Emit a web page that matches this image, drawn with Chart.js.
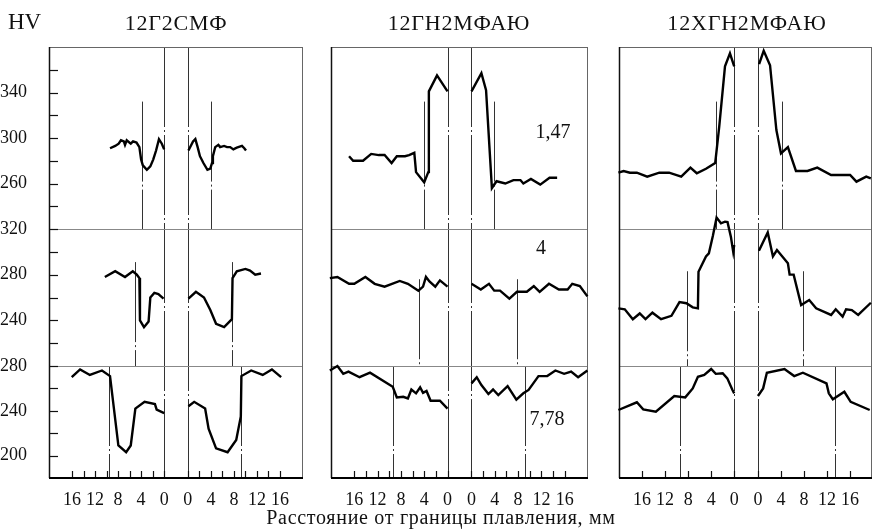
<!DOCTYPE html>
<html>
<head>
<meta charset="utf-8">
<script src="https://cdn.jsdelivr.net/npm/chart.js@4.4.1/dist/chart.umd.min.js"></script>
<style>
  body { margin: 0; background: #fff; }
  #wrap { position: relative; width: 872px; height: 531px; overflow: hidden;
          font-family: "Liberation Serif", "Times New Roman", serif; color: #111; }
  #wrap canvas { position: absolute; left: 0; top: 0; }
  .t { position: absolute; white-space: nowrap; line-height: 1; transform: translate(-50%, -50%); }
  .ttl { font-size: 22px; letter-spacing: 0.8px; }
</style>
</head>
<body>
<div id="wrap">
  <canvas id="c0" width="872" height="531"></canvas>
  <canvas id="c1" width="872" height="531"></canvas>
  <canvas id="c2" width="872" height="531"></canvas>
  <div class="t" style="left:8px;top:21px;font-size:23px;transform:translateY(-50%)">HV</div>
  <div class="t ttl" id="ti0" style="left:176px;top:23px"></div>
  <div class="t ttl" id="ti1" style="left:459px;top:23px"></div>
  <div class="t ttl" id="ti2" style="left:747px;top:23px"></div>
  <div class="t" id="st0" style="left:553px;top:131px;font-size:20px"></div>
  <div class="t" id="st1" style="left:541px;top:247px;font-size:20px"></div>
  <div class="t" id="st2" style="left:547px;top:418px;font-size:20px"></div>
  <div class="t" style="left:441px;top:517px;font-size:20px;letter-spacing:0.7px">Расстояние от границы плавления, мм</div>
</div>
<script>
// half of the gap between the two zero lines, mm
const GAP = 2.06;

const steels = ['12Г2СМФ', '12ГН2МФАЮ', '12ХГН2МФАЮ'];
const strains = ['1,47', '4', '7,78'];

// HV range, labels and tick marks of each row (top to bottom)
const rowRanges = [[220, 380], [200, 320], [180, 280]];
const rowLabels = [[260, 300, 340], [240, 280, 320], [200, 240, 280]];
const rowTicks = [[240, 260, 280, 300, 320, 340, 360], [220, 240, 260, 280, 300, 320], [200, 220, 240, 260, 280]];

// distance tick labels and tick marks, mm
const xLabels = [0, 4, 8, 12, 16];
const xTicks2 = [0, 2, 4, 6, 8, 10, 12, 14, 16];
const xTicks4 = [0, 4, 8, 12, 16];

// curves: [distance from fusion line, mm ; HV]
// 12Г2СМФ
const a1L = [[9.4,291],[8.5,293],[7.9,295],[7.5,298],[7.0,297],[6.8,294],[6.5,298],[5.8,295],[5.4,297],[4.8,296],[4.3,292],[4.0,281],[3.7,276],[3.0,272],[2.4,275],[1.9,281],[1.4,289],[0.9,299],[0.4,295],[0,290]];
const a1R = [[0.1,289],[0.9,297],[1.3,299],[1.7,292],[2.1,284],[2.7,278],[3.4,272],[3.9,273],[4.2,278],[4.35,284],[4.75,292],[5.3,294],[5.6,292],[6.3,293],[6.8,292],[7.35,292],[7.9,290],[8.5,291.5],[9.0,292.4],[9.4,293],[9.8,291],[10.1,289]];
const a2L = [[10.3,278],[8.5,283],[6.8,278],[5.45,283],[4.75,280],[4.3,277],[4.2,240],[3.5,234],[2.7,239],[2.4,260],[1.7,264],[1.0,263],[0.1,259]];
const a2R = [[0.1,259],[1.4,265],[2.8,260],[3.9,249],[4.9,237],[6.3,234],[7.65,241],[7.76,277],[8.5,283],[10,285],[10.8,283.5],[11.7,280],[12.7,281]];
const a3L = [[16.05,270],[14.6,277],[12.9,272],[10.8,276],[9.4,271],[7.95,209],[6.6,203],[5.8,209],[5.0,242],[3.4,248],[1.6,246],[1.3,241],[0,238]];
const a3R = [[0.1,244],[1.1,248],[3.0,242],[3.6,224],[4.9,206.5],[6.9,203],[8.4,214],[9.2,235],[9.3,271],[11,276],[13,272],[14.6,277],[16.2,270]];
// 12ГН2МФАЮ
const b1L = [[16.9,284],[16.2,280],[14.5,280],[13.1,286],[11.8,285],[10.8,285],[9.6,278],[8.7,284],[7.3,284],[6.6,285],[5.7,287],[5.4,270],[4.0,261],[3.3,270],[3.2,341],[1.8,355],[0,341]];
const b1R = [[0,341],[1.7,357],[2.5,342],[3.5,256],[4.3,262],[5.8,260],[7.2,263],[8.4,263],[8.9,260],[10.2,264],[11.8,259],[13.4,265],[14.7,265]];
const b2L = [[20.2,277],[18.9,278],[16.9,272],[16,272],[14.1,278],[12.5,272],[10.8,269.5],[8.2,274.5],[6.8,272],[5.0,266],[4.2,269.5],[3.7,278],[3.1,274],[2.1,269.5],[1.3,275],[0,269.5]];
const b2R = [[0,272],[1.6,267],[3.0,272],[3.9,266],[4.9,266],[6.5,259],[7.8,265],[9.5,265],[10.7,270],[11.7,265],[13.3,272],[15,267],[16.5,267],[17.3,272],[18.6,270],[19.9,261]];
const b3L = [[20.2,276],[18.9,280],[17.9,273],[17,275],[15.1,270],[13.3,274],[9.4,261.5],[8.7,252],[7.6,252.5],[6.8,251],[6.2,259],[5.4,255.6],[4.7,261],[4.2,256],[3.6,257.7],[2.9,249],[1.3,249],[0,242]];
const b3R = [[0,264.5],[0.9,270],[1.7,263],[2.9,255],[3.7,259],[4.6,254],[6.2,262],[7.7,250],[8.9,255.6],[9.8,258.6],[11.5,271],[13,271],[14.4,276],[15.9,273],[17.1,275],[18.3,270],[19.9,276]];
// 12ХГН2МФАЮ
const c1L = [[20.1,269.5],[19.2,271],[18.1,269.5],[16.9,269.5],[15.1,266],[13,269.5],[11.3,269.5],[9.2,266],[7.6,274],[6.5,269],[4.9,273],[3.3,278],[2.6,310],[1.6,363],[0.74,374.5],[0,363]];
const c1R = [[0.2,365],[1,376.7],[2.1,364],[3.2,307],[4,286.5],[5.2,292],[6.6,271],[8.6,271],[10.3,274],[12.7,267.5],[14.7,267.5],[16,267.5],[17.1,261.6],[18.8,266],[19.6,264.6]];
const c2L = [[20.1,250.5],[19,249.7],[17.6,241],[16.4,246],[15.4,241],[14.2,246.7],[12.7,241],[10.9,244],[9.5,256],[8.3,255],[7.2,251.4],[6.3,250.5],[6.2,282.6],[4.9,296],[4.4,298.7],[3.7,314],[3.06,330],[2.3,325],[1.6,326.4],[1.16,326],[0.57,313],[0.17,300],[0,306]];
const c2R = [[0.17,301],[1.7,317],[2.6,296],[3.3,301.6],[5.2,290],[5.5,280],[6.2,280],[7.5,253.4],[8.9,257.8],[10.1,250.5],[12.7,244.7],[13.5,249.7],[14.7,243.2],[15.3,249.7],[16.3,249],[17.4,244.7],[19.6,255.4]];
const c3L = [[20.1,240.7],[16.9,247.6],[15.8,241.3],[13.6,239.2],[10.4,253.2],[8.5,252],[7.2,260],[6.3,270.4],[5.2,272],[4.0,277.3],[3.2,273],[2.0,273.5],[1.2,269],[0.3,258.6],[0,255.6]];
const c3R = [[0,253.2],[0.9,260],[1.55,274],[4.6,277.3],[6.3,271],[7.8,274],[11.9,264.5],[12.3,255.6],[13,250.3],[15,257],[16.1,248],[19.4,240.7]];

// heat affected zone boundaries per row: [left mm, right mm, HV where the line starts]
const haz0 = [[3.8, 4.0, 332], [5.0, 7.75, 291], [9.5, 9.3, 280]];
const haz1 = [[4.0, 3.9, 332], [4.9, 7.8, 276], [9.4, 9.2, 280]];
const haz2 = [[3.1, 4.15, 332], [8.2, 7.8, 283], [9.4, 13.4, 280]];

const columns = [
  { left: 49, right: 303, maxMm: 20, curves: [[a1L, a1R], [a2L, a2R], [a3L, a3R]], haz: haz0, xTicks: xTicks2 },
  { left: 331, right: 588, maxMm: 20, curves: [[b1L, b1R], [b2L, b2R], [b3L, b3R]], haz: haz1, xTicks: xTicks2 },
  { left: 619, right: 872, maxMm: 19.8, curves: [[c1L, c1R], [c2L, c2R], [c3L, c3R]], haz: haz2, xTicks: xTicks4 },
];
const TOP = 47, BOTTOM = 478;
const rowPx = [182, 137, 112];
const FONT = '"Liberation Serif", "Times New Roman", serif';

steels.forEach((s, i) => { document.getElementById('ti' + i).textContent = s; });
strains.forEach((s, i) => { document.getElementById('st' + i).textContent = s; });

const side = (d, sgn) => sgn * (d + GAP);

function framePlugin(col, c) {
  return {
    id: 'frame' + c,
    beforeDatasetsDraw(chart) {
      const { ctx, chartArea: a, scales } = chart;
      const x = scales.x;
      const seg = (x1, y1, x2, y2) => { ctx.beginPath(); ctx.moveTo(x1, y1); ctx.lineTo(x2, y2); ctx.stroke(); };
      const px = v => Math.round(x.getPixelForValue(v)) + 0.5;
      ctx.save();
      // zero lines and HAZ boundaries, dash-dot
      ctx.strokeStyle = '#333';
      ctx.lineWidth = 1;
      ctx.setLineDash([80, 3, 2, 3]);
      [-GAP, GAP].forEach(v => seg(px(v), a.top, px(v), a.bottom));
      col.haz.forEach((h, r) => {
        const y = scales['y' + r];
        const top = y.getPixelForValue(h[2]);
        seg(px(side(h[0], -1)), top, px(side(h[0], -1)), y.bottom);
        seg(px(side(h[1], 1)), top, px(side(h[1], 1)), y.bottom);
      });
      ctx.setLineDash([]);
      // row separators
      ctx.strokeStyle = '#888';
      [0, 1].forEach(r => {
        const yy = Math.round(scales['y' + r].bottom) + 0.5;
        seg(a.left, yy, a.right, yy);
      });
      // top and right frame
      ctx.strokeStyle = '#666';
      seg(a.left, a.top + 0.5, a.right, a.top + 0.5);
      seg(a.right - 0.5, a.top, a.right - 0.5, a.bottom);
      // left border
      ctx.strokeStyle = '#111';
      ctx.lineWidth = 1.5;
      seg(a.left + 0.5, a.top, a.left + 0.5, a.bottom);
      // inward tick marks
      ctx.lineWidth = 1.2;
      col.xTicks.forEach(d => {
        [-1, 1].forEach(sgn => seg(px(side(d, sgn)), a.bottom, px(side(d, sgn)), a.bottom - 7));
      });
      if (c === 0) {
        rowTicks.forEach((list, r) => {
          const y = scales['y' + r];
          list.forEach(v => {
            const yy = Math.round(y.getPixelForValue(v)) + 0.5;
            seg(a.left, yy, a.left + 9, yy);
          });
        });
      }
      // bottom axis
      ctx.strokeStyle = '#000';
      ctx.lineWidth = 2;
      seg(a.left, a.bottom, a.right, a.bottom);
      ctx.restore();
    }
  };
}

columns.forEach((col, c) => {
  const yW = c === 0 ? 49 : 0;
  const scales = {
    x: {
      type: 'linear',
      position: 'bottom',
      min: -(20 + GAP),
      max: col.maxMm + GAP,
      afterFit: s => { s.height = 40; },
      afterBuildTicks: s => {
        const vals = xLabels.map(d => side(d, -1)).reverse().concat(xLabels.map(d => side(d, 1)));
        s.ticks = vals.map(v => ({ value: v }));
      },
      grid: { display: false },
      border: { display: false },
      ticks: {
        autoSkip: false, maxRotation: 0, padding: 3, color: '#111',
        font: { family: FONT, size: 18 },
        callback: v => Math.round(Math.abs(v) - GAP)
      }
    }
  };
  rowRanges.forEach((rg, r) => {
    scales['y' + r] = {
      type: 'linear',
      position: 'left',
      stack: 'hv',
      stackWeight: rowPx[r],
      weight: 3 - r,
      min: rg[0],
      max: rg[1],
      afterFit: s => { s.width = yW; },
      afterBuildTicks: s => { s.ticks = rowLabels[r].map(v => ({ value: v })); },
      grid: { display: false },
      border: { display: false },
      ticks: {
        display: c === 0, autoSkip: false, padding: 14, color: '#111',
        font: { family: FONT, size: 18 }
      }
    };
  });

  const datasets = [];
  col.curves.forEach((pair, r) => {
    pair.forEach((pts, k) => {
      const sgn = k === 0 ? -1 : 1;
      datasets.push({
        data: pts.map(([d, v]) => ({ x: side(d, sgn), y: v })),
        yAxisID: 'y' + r,
        borderColor: '#000',
        borderWidth: 2.4,
        pointRadius: 0,
        tension: 0,
        fill: false,
        clip: false
      });
    });
  });

  new Chart(document.getElementById('c' + c), {
    type: 'line',
    data: { datasets },
    options: {
      responsive: false,
      animation: false,
      events: [],
      layout: { padding: { left: col.left - yW, right: 872 - col.right, top: TOP, bottom: 531 - BOTTOM - 40 } },
      scales,
      plugins: { legend: { display: false }, tooltip: { enabled: false } }
    },
    plugins: [framePlugin(col, c)]
  });
});
</script>
</body>
</html>
